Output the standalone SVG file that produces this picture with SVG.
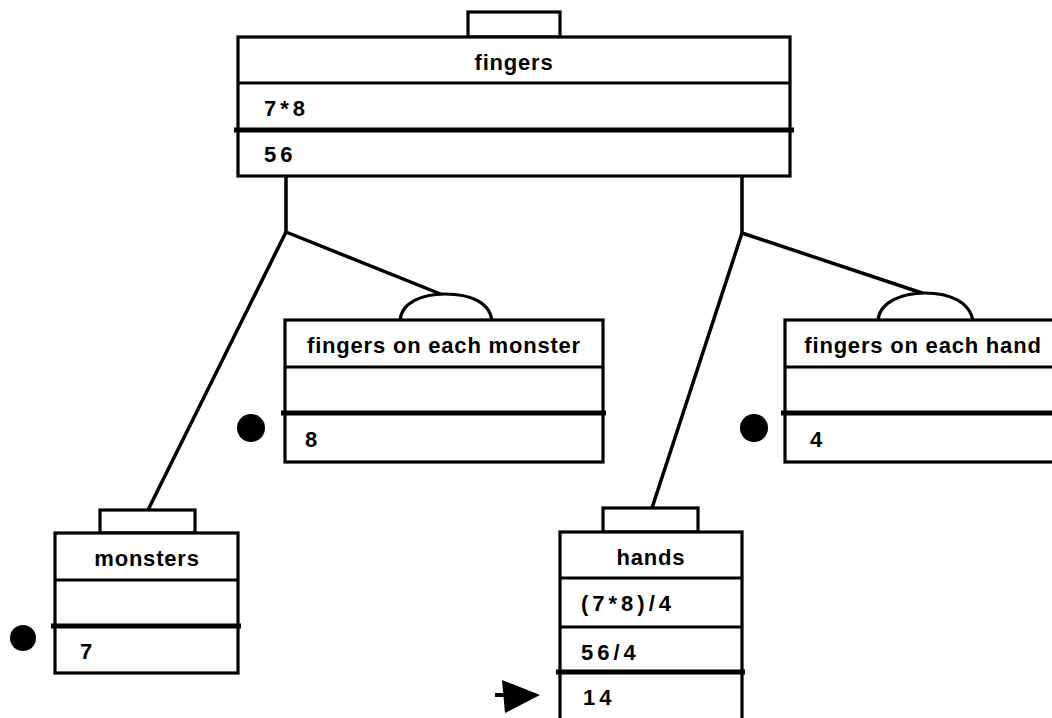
<svg xmlns="http://www.w3.org/2000/svg" width="1052" height="718" viewBox="0 0 1052 718">
  <style>
    .frame { fill: #fff; stroke: #000; stroke-width: 3.2; }
    .tab { fill: #fff; stroke: #000; stroke-width: 3.2; }
    .rule { stroke: #000; stroke-width: 2.8; }
    .bold-rule { stroke: #000; stroke-width: 5; }
    .conn { fill: none; stroke: #000; stroke-width: 3.5; stroke-linecap: round; stroke-linejoin: round; }
    .bump { fill: #fff; stroke: #000; stroke-width: 3.2; }
    .dot { fill: #000; }
    text { font-family: "Liberation Sans", Arial, Helvetica, sans-serif; font-weight: bold; font-size: 22px; fill: #000; }
    .title { text-anchor: middle; letter-spacing: 0.8px; }
    .val { letter-spacing: 4px; }
  </style>

  <rect width="1052" height="718" fill="#fff"/>

  <!-- connectors -->
  <g id="connectors">
    <path class="conn" d="M286,176 L286,232 L148,510"/>
    <path class="conn" d="M286,232 L443,295"/>
    <path class="conn" d="M742,176 L742,233 L652,508"/>
    <path class="conn" d="M742,233 L925,294"/>
  </g>

  <!-- product node -->
  <g id="node-fingers">
    <rect class="tab" x="468" y="12" width="92" height="25"/>
    <rect class="frame" x="238" y="37" width="552" height="139"/>
    <line class="rule" x1="238" y1="83" x2="790" y2="83"/>
    <line class="bold-rule" x1="234" y1="130" x2="794" y2="130"/>
    <text class="title" x="514" y="70">fingers</text>
    <text class="val" x="264" y="116">7*8</text>
    <text class="val" x="264" y="162">56</text>
  </g>

  <!-- factor: fingers on each monster -->
  <g id="node-fingers-monster">
    <path class="bump" d="M400,321 C401,302 423,294 445,294 C470,294 490,302 492,321"/>
    <rect class="frame" x="285" y="320" width="318" height="142"/>
    <line class="rule" x1="285" y1="367" x2="603" y2="367"/>
    <line class="bold-rule" x1="281" y1="413" x2="606" y2="413"/>
    <circle class="dot" cx="251" cy="428" r="14"/>
    <text class="title" x="444" y="353">fingers on each monster</text>
    <text class="val" x="305" y="447">8</text>
  </g>

  <!-- divisor: fingers on each hand -->
  <g id="node-fingers-hand">
    <path class="bump" d="M878,321 C879,302 902,293 925,293 C950,293 970,302 973,321"/>
    <rect class="frame" x="785" y="320" width="277" height="142"/>
    <line class="rule" x1="785" y1="367" x2="1062" y2="367"/>
    <line class="bold-rule" x1="781" y1="413" x2="1062" y2="413"/>
    <circle class="dot" cx="754" cy="428" r="14"/>
    <text class="title" x="923" y="353">fingers on each hand</text>
    <text class="val" x="810" y="447">4</text>
  </g>

  <!-- factor: monsters -->
  <g id="node-monsters">
    <rect class="tab" x="100" y="510" width="95" height="23"/>
    <rect class="frame" x="55" y="533" width="183" height="140"/>
    <line class="rule" x1="55" y1="580" x2="238" y2="580"/>
    <line class="bold-rule" x1="51" y1="626" x2="241" y2="626"/>
    <circle class="dot" cx="23" cy="638" r="13"/>
    <text class="title" x="147" y="566">monsters</text>
    <text class="val" x="80" y="659">7</text>
  </g>

  <!-- quotient: hands -->
  <g id="node-hands">
    <rect class="tab" x="603" y="508" width="95" height="24"/>
    <rect class="frame" x="560" y="532" width="182" height="200"/>
    <line class="rule" x1="560" y1="578" x2="742" y2="578"/>
    <line class="rule" x1="560" y1="627" x2="742" y2="627"/>
    <line class="bold-rule" x1="556" y1="672" x2="745" y2="672"/>
    <text class="title" x="651" y="565">hands</text>
    <text class="val" x="581" y="611">(7*8)/4</text>
    <text class="val" x="581" y="660">56/4</text>
    <text class="val" x="583" y="705">14</text>
    <!-- current-step pointer -->
    <line x1="495" y1="695" x2="506" y2="695" stroke="#000" stroke-width="4"/>
    <polygon points="502,680 505,713 540,695" fill="#000"/>
  </g>
</svg>
